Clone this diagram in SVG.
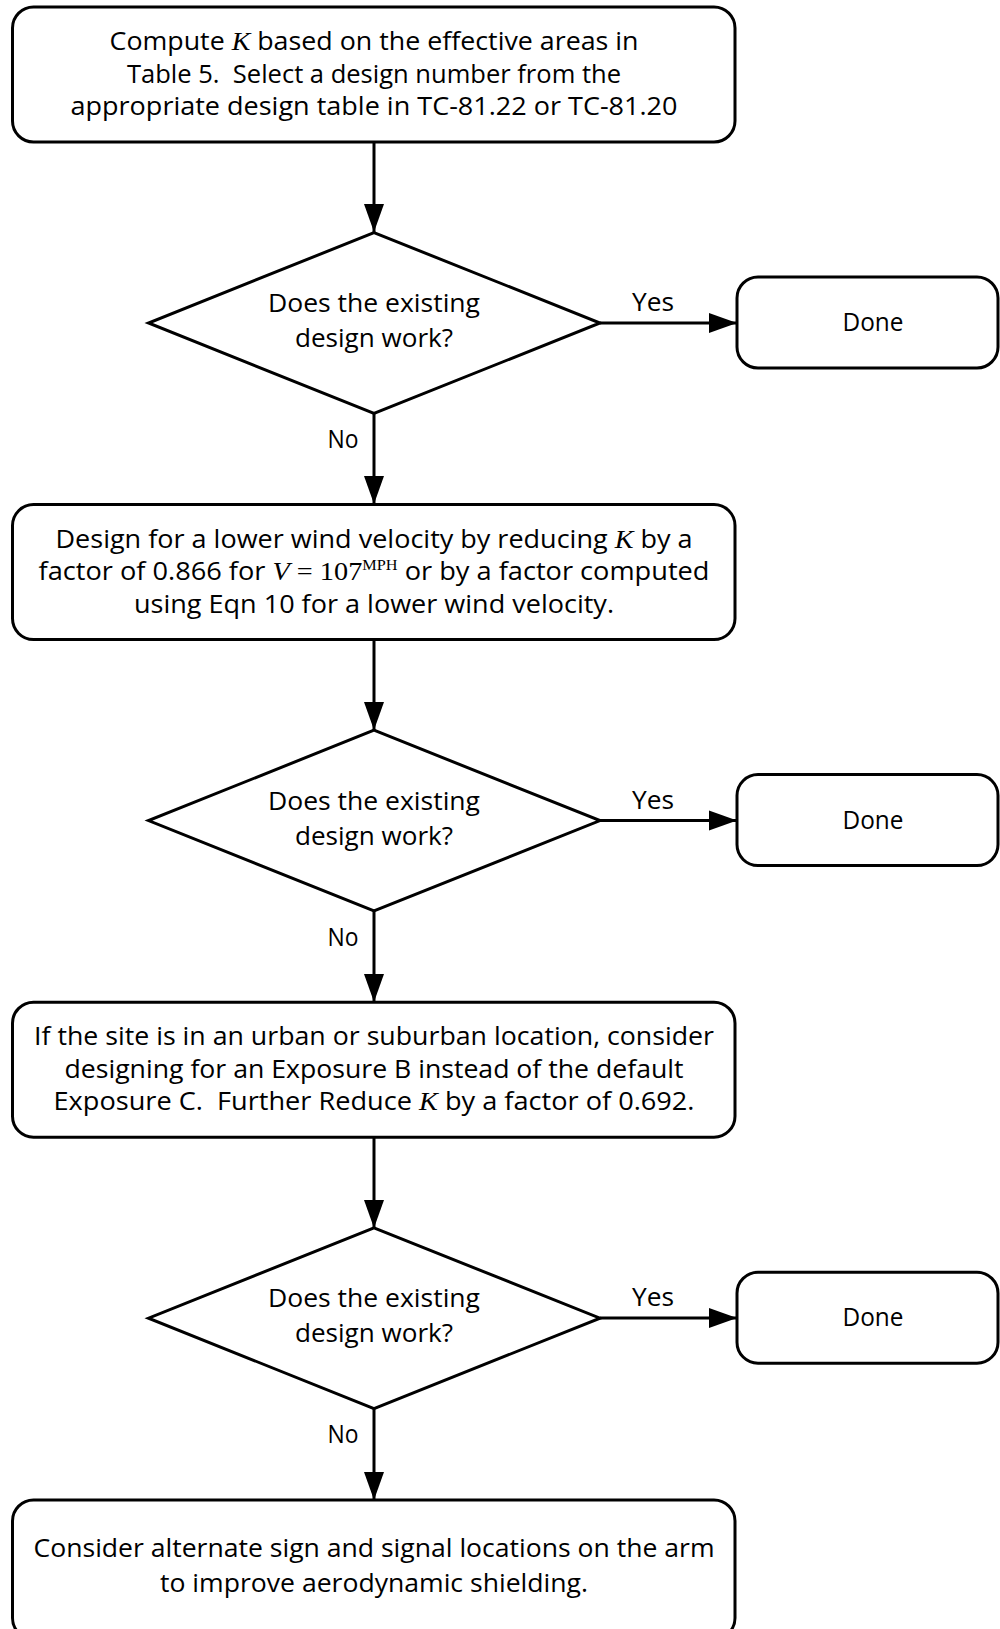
<svg xmlns="http://www.w3.org/2000/svg" width="1000" height="1629" viewBox="0 0 1000 1629">
<defs>
<style>
.box{fill:#fff;stroke:#000;stroke-width:3}
.t{font-family:"Open Sans","Liberation Sans",sans-serif;font-size:25px;fill:#000;text-anchor:middle}
.m{font-family:"Liberation Serif","Times New Roman",serif;font-style:italic;font-size:26px}
.s{font-family:"Liberation Serif","Times New Roman",serif;font-size:26px}
.sup{font-family:"Liberation Serif","Times New Roman",serif;font-size:15px}
.c{stroke:#000;stroke-width:3;fill:none}
</style>
<marker id="ah" markerUnits="userSpaceOnUse" markerWidth="30" markerHeight="22" viewBox="0 0 30 22" refX="28" refY="11" orient="auto">
<path d="M0,1 L28,11 L0,21 Z" fill="#000"/>
</marker>
</defs>
<rect width="1000" height="1629" fill="#fff"/>
<g id="connectors">
<line class="c" x1="374" y1="142" x2="374" y2="232" marker-end="url(#ah)"/>
<line class="c" x1="600" y1="323" x2="737" y2="323" marker-end="url(#ah)"/>
<line class="c" x1="374" y1="413" x2="374" y2="504" marker-end="url(#ah)"/>
<line class="c" x1="374" y1="640" x2="374" y2="730" marker-end="url(#ah)"/>
<line class="c" x1="600" y1="820.6" x2="737" y2="820.6" marker-end="url(#ah)"/>
<line class="c" x1="374" y1="911" x2="374" y2="1002" marker-end="url(#ah)"/>
<line class="c" x1="374" y1="1137" x2="374" y2="1228" marker-end="url(#ah)"/>
<line class="c" x1="600" y1="1318" x2="737" y2="1318" marker-end="url(#ah)"/>
<line class="c" x1="374" y1="1408.6" x2="374" y2="1500" marker-end="url(#ah)"/>
<text class="t" x="653" y="311" textLength="42" lengthAdjust="spacingAndGlyphs">Yes</text>
<text class="t" x="343" y="448" textLength="31" lengthAdjust="spacingAndGlyphs">No</text>
<text class="t" x="653" y="808.6" textLength="42" lengthAdjust="spacingAndGlyphs">Yes</text>
<text class="t" x="343" y="945.6" textLength="31" lengthAdjust="spacingAndGlyphs">No</text>
<text class="t" x="653" y="1306" textLength="42" lengthAdjust="spacingAndGlyphs">Yes</text>
<text class="t" x="343" y="1443" textLength="31" lengthAdjust="spacingAndGlyphs">No</text>
</g>
<g id="box1">
<rect class="box" x="12.5" y="7" width="722.5" height="135" rx="21"/>
<text class="t" x="374" y="50" textLength="529" lengthAdjust="spacingAndGlyphs">Compute <tspan class="m">K</tspan> based on the effective areas in</text>
<text class="t" x="374" y="82.5" textLength="494" lengthAdjust="spacingAndGlyphs" xml:space="preserve">Table 5.  Select a design number from the</text>
<text class="t" x="374" y="115" textLength="607" lengthAdjust="spacingAndGlyphs">appropriate design table in TC-81.22 or TC-81.20</text>
</g>
<g id="dec1">
<polygon class="box" points="374,232.6 600,323 374,413.4 148.5,323"/>
<text class="t" x="374" y="312" textLength="212" lengthAdjust="spacingAndGlyphs">Does the existing</text>
<text class="t" x="374" y="347" textLength="158" lengthAdjust="spacingAndGlyphs">design work?</text>
</g>
<g id="done1">
<rect class="box" x="737" y="277" width="261" height="91" rx="21"/>
<text class="t" x="873" y="331" textLength="61" lengthAdjust="spacingAndGlyphs">Done</text>
</g>
<g id="box2">
<rect class="box" x="12.5" y="504.6" width="722.5" height="135" rx="21"/>
<text class="t" x="374" y="547.6" textLength="637" lengthAdjust="spacingAndGlyphs">Design for a lower wind velocity by reducing <tspan class="m">K</tspan> by a</text>
<text class="t" x="374" y="580.1" textLength="671" lengthAdjust="spacingAndGlyphs">factor of 0.866 for <tspan class="m">V</tspan><tspan class="s"> = 107</tspan><tspan class="sup" dy="-10">MPH</tspan><tspan dy="10"> or by a factor computed</tspan></text>
<text class="t" x="374" y="612.6" textLength="480" lengthAdjust="spacingAndGlyphs">using Eqn 10 for a lower wind velocity.</text>
</g>
<g id="dec2">
<polygon class="box" points="374,730.2 600,820.6 374,911 148.5,820.6"/>
<text class="t" x="374" y="809.6" textLength="212" lengthAdjust="spacingAndGlyphs">Does the existing</text>
<text class="t" x="374" y="844.6" textLength="158" lengthAdjust="spacingAndGlyphs">design work?</text>
</g>
<g id="done2">
<rect class="box" x="737" y="774.6" width="261" height="91" rx="21"/>
<text class="t" x="873" y="828.6" textLength="61" lengthAdjust="spacingAndGlyphs">Done</text>
</g>
<g id="box3">
<rect class="box" x="12.5" y="1002.2" width="722.5" height="135" rx="21"/>
<text class="t" x="374" y="1045.2" textLength="680" lengthAdjust="spacingAndGlyphs">If the site is in an urban or suburban location, consider</text>
<text class="t" x="374" y="1077.7" textLength="619" lengthAdjust="spacingAndGlyphs">designing for an Exposure B instead of the default</text>
<text class="t" x="374" y="1110.2" textLength="641" lengthAdjust="spacingAndGlyphs" xml:space="preserve">Exposure C.  Further Reduce <tspan class="m">K</tspan> by a factor of 0.692.</text>
</g>
<g id="dec3">
<polygon class="box" points="374,1227.8 600,1318.2 374,1408.6 148.5,1318.2"/>
<text class="t" x="374" y="1307.2" textLength="212" lengthAdjust="spacingAndGlyphs">Does the existing</text>
<text class="t" x="374" y="1342.2" textLength="158" lengthAdjust="spacingAndGlyphs">design work?</text>
</g>
<g id="done3">
<rect class="box" x="737" y="1272.2" width="261" height="91" rx="21"/>
<text class="t" x="873" y="1326.2" textLength="61" lengthAdjust="spacingAndGlyphs">Done</text>
</g>
<g id="box4">
<rect class="box" x="12.5" y="1500" width="722.5" height="139" rx="21"/>
<text class="t" x="374" y="1557" textLength="681" lengthAdjust="spacingAndGlyphs">Consider alternate sign and signal locations on the arm</text>
<text class="t" x="374" y="1592" textLength="428" lengthAdjust="spacingAndGlyphs">to improve aerodynamic shielding.</text>
</g>
</svg>
